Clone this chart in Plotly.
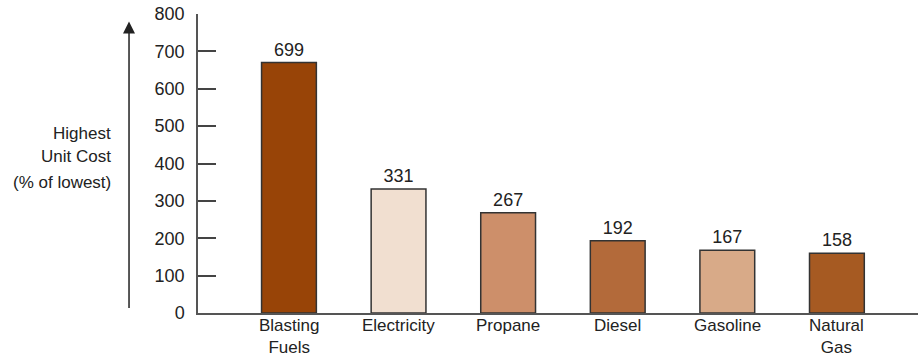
import plotly.graph_objects as go

categories = ["Blasting<br>Fuels", "Electricity", "Propane", "Diesel", "Gasoline", "Natural<br>Gas"]
bar_heights = [670, 332, 268, 193, 168, 160]
value_labels = ["699", "331", "267", "192", "167", "158"]
bar_colors = ["#984407", "#F1DFD0", "#CD8F6A", "#B36A3A", "#D8AA88", "#A65A22"]
y_ticks = [0, 100, 200, 300, 400, 500, 600, 700, 800]
y_title_lines = ["Highest", "Unit Cost", "(% of lowest)"]

FONT = "Liberation Sans, Arial, sans-serif"
xs = list(range(len(categories)))

fig = go.Figure()
fig.add_trace(go.Bar(
    x=xs,
    y=bar_heights,
    text=value_labels,
    textposition="outside",
    textfont=dict(family=FONT, size=18, color="#222"),
    cliponaxis=False,
    marker=dict(color=bar_colors, line=dict(color="#333", width=1.5)),
    width=0.5,
    hoverinfo="skip",
))

annotations = []
for xi, lab in zip(xs, categories):
    annotations.append(dict(
        xref="x", yref="paper", x=xi, y=0, yshift=-1,
        text=lab, showarrow=False, xanchor="center", yanchor="top",
        align="center", font=dict(family=FONT, size=17, color="#222")))

for yp, line in zip([0.602, 0.522, 0.438], y_title_lines):
    annotations.append(dict(
        xref="paper", yref="paper", x=-0.118, y=yp, text=line,
        showarrow=False, xanchor="right", yanchor="middle",
        font=dict(family=FONT, size=17, color="#222")))

annotations.append(dict(
    xref="paper", yref="paper", x=-0.0958, y=0.975,
    ax=0, ay=288, axref="pixel", ayref="pixel",
    text="", showarrow=True, arrowhead=2, arrowsize=1.6,
    arrowwidth=1.5, arrowcolor="#222"))

fig.update_layout(
    width=918, height=360,
    margin=dict(l=198, r=0, t=14, b=47),
    paper_bgcolor="white", plot_bgcolor="white",
    showlegend=False,
    font=dict(family=FONT, size=17, color="#222"),
    xaxis=dict(
        range=[-0.83, 5.74], showgrid=False, zeroline=False,
        showline=True, linecolor="#555", linewidth=1.5,
        ticks="", showticklabels=False, automargin=False,
    ),
    yaxis=dict(
        range=[0, 800], tickvals=y_ticks, showgrid=False, zeroline=False,
        showline=True, linecolor="#555", linewidth=1.5,
        ticks="inside", ticklen=18, tickcolor="#444", tickwidth=1.5,
        ticklabelstandoff=8, automargin=False,
        tickfont=dict(family=FONT, size=18, color="#222"),
    ),
    annotations=annotations,
)

fig.write_html("out.html", config={"displayModeBar": False},
               post_script="document.body.style.margin='0';document.body.style.overflow='hidden';")
